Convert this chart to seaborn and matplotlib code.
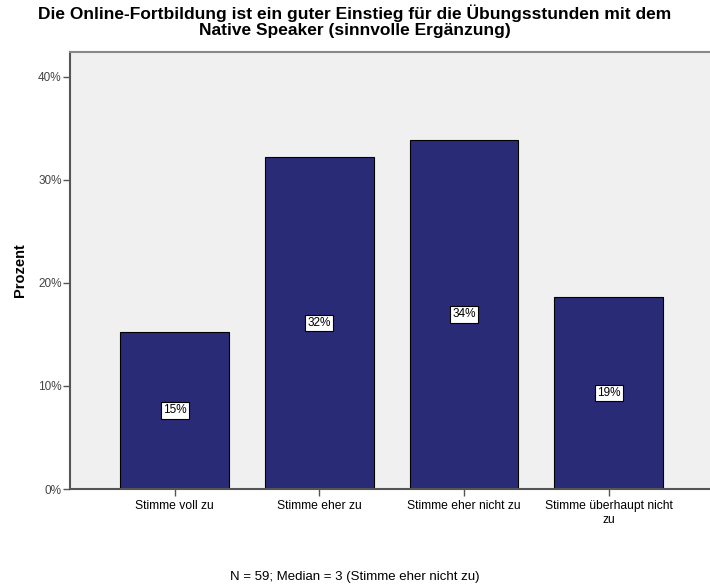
import matplotlib
matplotlib.use("Agg")
import matplotlib.pyplot as plt
import pandas as pd
import seaborn as sns

categories = ["Stimme voll zu", "Stimme eher zu", "Stimme eher nicht zu",
              "Stimme überhaupt nicht\nzu"]
counts = [9, 19, 20, 11]
n_total = sum(counts)
percent = [c / n_total * 100 for c in counts]
bar_labels = ["15%", "32%", "34%", "19%"]

df = pd.DataFrame({"Kategorie": categories, "Prozent": percent})

sns.set_style("white")
plt.rcParams["font.family"] = ["Liberation Sans", "DejaVu Sans"]
plt.rcParams["text.color"] = "black"

fig = plt.figure(figsize=(7.1, 5.86), dpi=100)
ax = fig.add_axes([70 / 710, 97 / 586, 640 / 710, 437 / 586])
ax.set_facecolor("#f0f0f0")

sns.barplot(data=df, x="Kategorie", y="Prozent", color="#2a2b76",
            saturation=1, width=0.75, edgecolor="black", linewidth=0.8, ax=ax)

for i, (p, lab) in enumerate(zip(percent, bar_labels)):
    ax.text(i, p / 2, lab, ha="center", va="center", fontsize=8.5, color="black",
            bbox=dict(boxstyle="square,pad=0.2", fc="white", ec="black", lw=0.8))

ax.set_xlim(-0.724, 3.70)
ax.set_ylim(0, 42.4)
ax.set_yticks([0, 10, 20, 30, 40])
ax.set_yticklabels(["0%", "10%", "20%", "30%", "40%"], fontsize=8.5, color="#444444")
ax.tick_params(axis="y", length=5, width=1, color="#555555", pad=1, left=True)
ax.tick_params(axis="x", length=5, width=1, color="#555555", pad=3, bottom=True,
               labelsize=8.7, labelcolor="black")
ax.set_xlabel("")
ax.set_ylabel("Prozent", fontsize=10.5, fontweight="bold", labelpad=8, color="black")

for side in ["left", "bottom"]:
    ax.spines[side].set_color("#555555")
    ax.spines[side].set_linewidth(1.5)
ax.spines["top"].set_color("#888888")
ax.spines["top"].set_linewidth(1.5)
ax.spines["right"].set_visible(False)

fig.text(0.5, 1 - 21 / 586,
         "Die Online-Fortbildung ist ein guter Einstieg für die Übungsstunden mit dem\n"
         "Native Speaker (sinnvolle Ergänzung)",
         ha="center", va="center", fontsize=12.5, fontweight="bold", linespacing=1.05,
         color="black")
fig.text(0.5, 1 - 577 / 586, f"N = {n_total}; Median = 3 (Stimme eher nicht zu)",
         ha="center", va="center", fontsize=9.5, color="black")

fig.savefig("out.png", dpi=100)
